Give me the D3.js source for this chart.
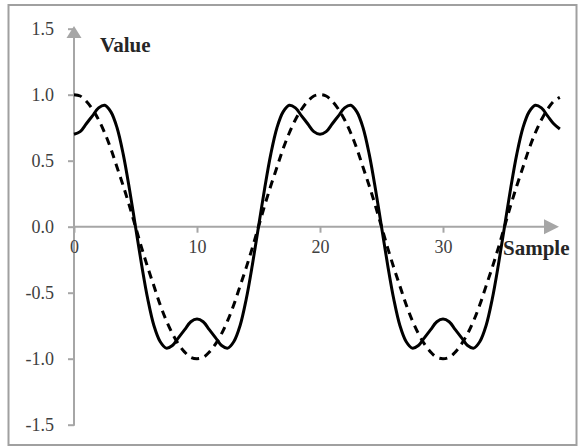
<!DOCTYPE html>
<html>
<head>
<meta charset="utf-8">
<script src="https://cdn.jsdelivr.net/npm/d3@7"></script>
<style>
  html, body { margin: 0; padding: 0; background: #fff; }
  svg { display: block; }
</style>
</head>
<body>
<svg id="chart" width="578" height="447"></svg>
<script>
// samples (x) and the two series
const samples = [0,0.5,1,1.5,2,2.5,3,3.5,4,4.5,5,5.5,6,6.5,7,7.5,8,8.5,9,9.5,
                 10,10.5,11,11.5,12,12.5,13,13.5,14,14.5,15,15.5,16,16.5,17,17.5,18,18.5,19,19.5,
                 20,20.5,21,21.5,22,22.5,23,23.5,24,24.5,25,25.5,26,26.5,27,27.5,28,28.5,29,29.5,
                 30,30.5,31,31.5,32,32.5,33,33.5,34,34.5,35,35.5,36,36.5,37,37.5,38,38.5,39,39.5];
const pureWave = [1.00,0.99,0.95,0.89,0.81,0.71,0.59,0.45,0.31,0.16,
                  0.00,-0.16,-0.31,-0.45,-0.59,-0.71,-0.81,-0.89,-0.95,-0.99,
                  -1.00,-0.99,-0.95,-0.89,-0.81,-0.71,-0.59,-0.45,-0.31,-0.16,
                  0.00,0.16,0.31,0.45,0.59,0.71,0.81,0.89,0.95,0.99,
                  1.00,0.99,0.95,0.89,0.81,0.71,0.59,0.45,0.31,0.16,
                  0.00,-0.16,-0.31,-0.45,-0.59,-0.71,-0.81,-0.89,-0.95,-0.99,
                  -1.00,-0.99,-0.95,-0.89,-0.81,-0.71,-0.59,-0.45,-0.31,-0.16,
                  0.00,0.16,0.31,0.45,0.59,0.71,0.81,0.89,0.95,0.98];
const mixedWave = [0.70,0.72,0.78,0.84,0.90,0.92,0.87,0.75,0.55,0.29,
                   0.00,-0.29,-0.55,-0.75,-0.87,-0.92,-0.90,-0.84,-0.78,-0.72,
                   -0.70,-0.72,-0.78,-0.84,-0.90,-0.92,-0.87,-0.75,-0.55,-0.29,
                   0.00,0.29,0.55,0.75,0.87,0.92,0.90,0.84,0.78,0.72,
                   0.70,0.72,0.78,0.84,0.90,0.92,0.87,0.75,0.55,0.29,
                   0.00,-0.29,-0.55,-0.75,-0.87,-0.92,-0.90,-0.84,-0.78,-0.72,
                   -0.70,-0.72,-0.78,-0.84,-0.90,-0.92,-0.87,-0.75,-0.55,-0.29,
                   0.00,0.29,0.55,0.75,0.87,0.92,0.90,0.84,0.78,0.74];
const xTicks = [0, 10, 20, 30];
const yTicks = [-1.5, -1.0, -0.5, 0.0, 0.5, 1.0, 1.5];

const svg = d3.select("#chart");
const axisColor = "#a6a6a6";
const serif = "'Liberation Serif', 'DejaVu Serif', serif";

// frame round the whole chart
svg.append("rect")
  .attr("x", 8.5).attr("y", 5)
  .attr("width", 568).attr("height", 440)
  .attr("fill", "#fff")
  .attr("stroke", "#a0a0a0")
  .attr("stroke-width", 2);

const x = d3.scaleLinear().domain([0, 39.5]).range([74, 74 + 39.5 * 12.3]);
const y = d3.scaleLinear().domain([-1.5, 1.5]).range([424.7, 28.7]);

// y axis
const yAxis = svg.append("g")
  .attr("transform", `translate(${x(0)},0)`)
  .call(d3.axisLeft(y).tickValues(yTicks).tickSize(6).tickPadding(14)
    .tickFormat(d => d.toFixed(1)));
yAxis.select(".domain").remove();
yAxis.selectAll(".tick line").attr("stroke", axisColor).attr("stroke-width", 2);
yAxis.selectAll(".tick text")
  .attr("font-family", serif).attr("font-size", 18).attr("fill", "#404040");

svg.append("line")
  .attr("x1", x(0)).attr("x2", x(0))
  .attr("y1", y(-1.5) + 1).attr("y2", 34)
  .attr("stroke", axisColor).attr("stroke-width", 2);
svg.append("path")
  .attr("d", `M${x(0)},26 L${x(0) - 7.5},38 L${x(0) + 7.5},38 Z`)
  .attr("fill", axisColor);

// x axis
const xAxis = svg.append("g")
  .attr("transform", `translate(0,${y(0)})`)
  .call(d3.axisBottom(x).tickValues(xTicks).tickSize(6).tickPadding(8)
    .tickFormat(d3.format("d")));
xAxis.select(".domain").remove();
xAxis.selectAll(".tick line").attr("stroke", axisColor).attr("stroke-width", 2);
xAxis.selectAll(".tick text")
  .attr("font-family", serif).attr("font-size", 18).attr("fill", "#404040");

svg.append("line")
  .attr("x1", x(0)).attr("x2", 548)
  .attr("y1", y(0)).attr("y2", y(0))
  .attr("stroke", axisColor).attr("stroke-width", 2);
svg.append("path")
  .attr("d", `M559,${y(0)} L544,${y(0) - 7.5} L544,${y(0) + 7.5} Z`)
  .attr("fill", axisColor);

// axis titles
svg.append("text")
  .attr("x", 100).attr("y", 52)
  .attr("font-family", serif).attr("font-size", 21).attr("font-weight", "bold")
  .attr("fill", "#262626")
  .text("Value");
svg.append("text")
  .attr("x", 503).attr("y", 255)
  .attr("font-family", serif).attr("font-size", 21).attr("font-weight", "bold")
  .attr("fill", "#262626")
  .text("Sample");

// the two series
const line = d3.line()
  .x((d, i) => x(samples[i]))
  .y(d => y(d))
  .curve(d3.curveCatmullRom.alpha(0.5));

svg.append("path")
  .datum(pureWave)
  .attr("d", line)
  .attr("fill", "none")
  .attr("stroke", "#000")
  .attr("stroke-width", 3)
  .attr("stroke-dasharray", "8,6");

svg.append("path")
  .datum(mixedWave)
  .attr("d", line)
  .attr("fill", "none")
  .attr("stroke", "#000")
  .attr("stroke-width", 3);
</script>
</body>
</html>
